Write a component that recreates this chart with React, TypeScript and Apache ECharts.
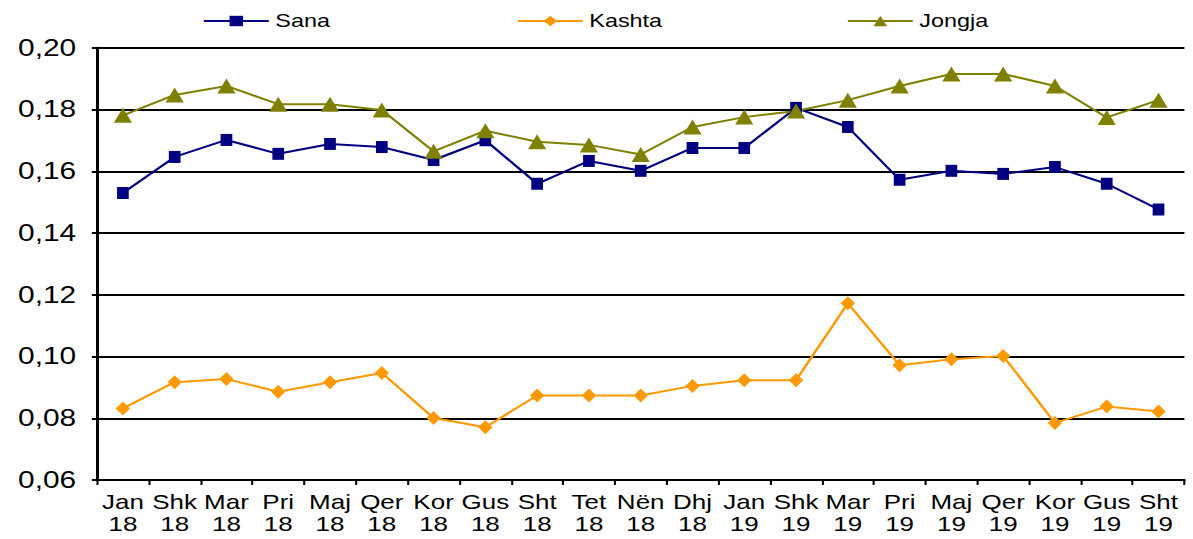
import React, { useEffect, useRef } from "react";
import * as echarts from "echarts";

const categories = [
  "Jan\n18", "Shk\n18", "Mar\n18", "Pri\n18", "Maj\n18", "Qer\n18", "Kor\n18", "Gus\n18", "Sht\n18",
  "Tet\n18", "Nën\n18", "Dhj\n18", "Jan\n19", "Shk\n19", "Mar\n19", "Pri\n19", "Maj\n19", "Qer\n19",
  "Kor\n19", "Gus\n19", "Sht\n19",
];

const sana = [
  0.153, 0.1647, 0.1702, 0.1657, 0.1689, 0.1679, 0.1637, 0.1701, 0.156, 0.1634, 0.1602,
  0.1676, 0.1676, 0.1806, 0.1744, 0.1573, 0.1602, 0.1592, 0.1614, 0.156, 0.1477,
];

const kashta = [
  0.0832, 0.0917, 0.0927, 0.0886, 0.0917, 0.0947, 0.0801, 0.0771, 0.0874, 0.0874, 0.0874,
  0.0905, 0.0923, 0.0923, 0.1173, 0.0972, 0.0991, 0.1002, 0.0785, 0.0838, 0.0822,
];

const jongja = [
  0.1782, 0.1848, 0.1877, 0.1818, 0.1818, 0.1799, 0.1665, 0.1732, 0.1696, 0.1686, 0.1655,
  0.1744, 0.1776, 0.1796, 0.1831, 0.1877, 0.1916, 0.1916, 0.1877, 0.1775, 0.1831,
];

const FONT = "'Liberation Sans', Arial, sans-serif";
// The reference is drawn horizontally stretched; render narrower and stretch with CSS.
const SX = 1.3;
const W = 1193 / SX;
const H = 539;

const legendBase = {
  top: 7,
  itemWidth: 50,
  itemHeight: 13,
  itemGap: 0,
  textStyle: { fontFamily: FONT, fontSize: 18, color: "#000" },
};

export default function App() {
  const ref = useRef<HTMLDivElement>(null);
  useEffect(() => {
    if (!ref.current) return;
    const chart = echarts.init(ref.current, null, { renderer: "svg" });
    chart.setOption({
      animation: false,
      backgroundColor: "#ffffff",
      textStyle: { fontFamily: FONT },
      legend: [
        { ...legendBase, left: 196 / SX, data: ["Sana"] },
        { ...legendBase, left: 510 / SX, data: ["Kashta"] },
        { ...legendBase, left: 840 / SX, data: ["Jongja"] },
      ],
      grid: { left: 97 / SX, right: 9 / SX, top: 48, bottom: 59, containLabel: false },
      xAxis: {
        type: "category",
        data: categories,
        boundaryGap: true,
        axisLine: { lineStyle: { color: "#000", width: 2 } },
        axisTick: { show: true, length: 5, inside: false, lineStyle: { color: "#000", width: 1.6 } },
        axisLabel: {
          interval: 0,
          margin: 11,
          fontFamily: FONT,
          fontSize: 20,
          lineHeight: 22,
          color: "#000",
        },
        splitLine: { show: false },
      },
      yAxis: {
        type: "value",
        min: 0.06,
        max: 0.2,
        interval: 0.02,
        axisLine: { show: true, lineStyle: { color: "#000", width: 2.3 } },
        axisTick: { show: true, length: 4, lineStyle: { color: "#000", width: 2 } },
        axisLabel: {
          fontFamily: FONT,
          fontSize: 23,
          color: "#000",
          margin: 16,
          formatter: (v: number) => v.toFixed(2).replace(".", ","),
        },
        splitLine: { show: true, lineStyle: { color: "#000", width: 2 } },
      },
      series: [
        {
          name: "Sana",
          type: "line",
          data: sana,
          color: "#000080",
          symbol: "rect",
          symbolSize: [9, 12],
          lineStyle: { width: 2, color: "#000080" },
          itemStyle: { color: "#000080" },
        },
        {
          name: "Kashta",
          type: "line",
          data: kashta,
          color: "#FF9900",
          symbol: "diamond",
          symbolSize: [11, 14],
          lineStyle: { width: 2, color: "#FF9900" },
          itemStyle: { color: "#FF9900" },
        },
        {
          name: "Jongja",
          type: "line",
          data: jongja,
          color: "#808000",
          symbol: "triangle",
          symbolSize: [14, 15],
          lineStyle: { width: 2, color: "#808000" },
          itemStyle: { color: "#808000" },
        },
      ],
    });
    return () => chart.dispose();
  }, []);
  return (
    <div
      ref={ref}
      style={{
        width: W,
        height: H,
        position: "absolute",
        left: 0,
        top: 0,
        transform: `scaleX(${SX})`,
        transformOrigin: "0 0",
      }}
    />
  );
}
